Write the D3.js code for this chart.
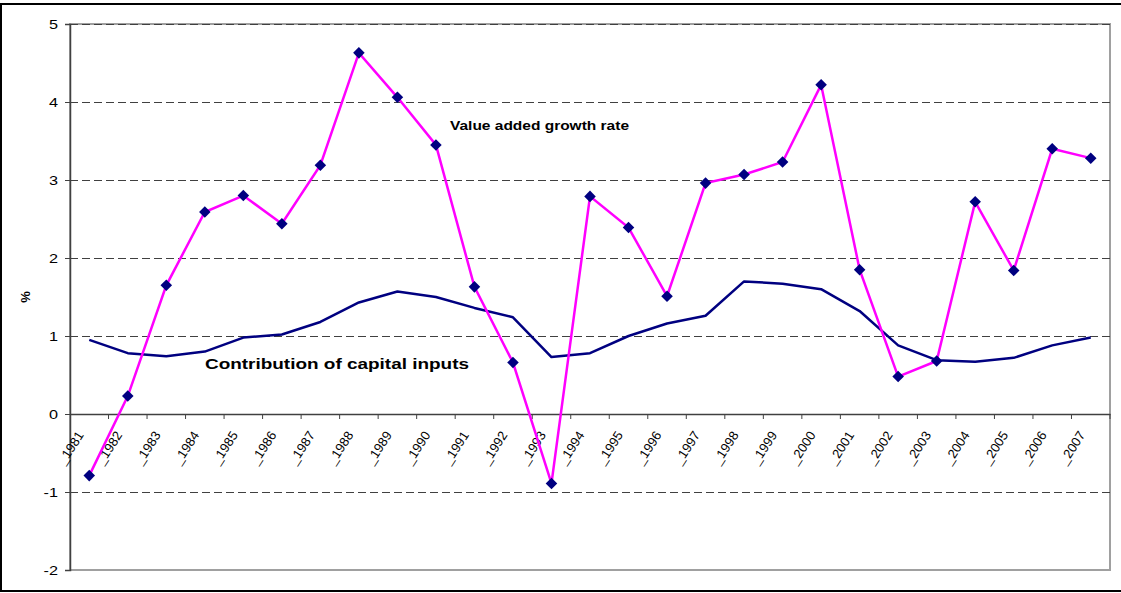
<!DOCTYPE html>
<html>
<head>
<meta charset="utf-8">
<script src="https://cdn.jsdelivr.net/npm/d3@7"></script>
<style>
body { margin:0; background:#fff; }
svg { display:block; font-family:"Liberation Sans", Arial, sans-serif; }
</style>
</head>
<body>
<div class="graph"></div>
<script>
const years = ["1981","1982","1983","1984","1985","1986","1987","1988","1989","1990",
  "1991","1992","1993","1994","1995","1996","1997","1998","1999","2000",
  "2001","2002","2003","2004","2005","2006","2007"];

// value added growth rate (%)
const valueAdded = [-0.79,0.23,1.65,2.59,2.80,2.44,3.19,4.63,4.06,3.45,
  1.63,0.66,-0.89,2.79,2.39,1.51,2.96,3.07,3.23,4.22,
  1.85,0.48,0.68,2.72,1.84,3.40,3.28];

// contribution of capital inputs (%)
const capital = [0.95,0.78,0.74,0.80,0.98,1.02,1.18,1.43,1.57,1.50,
  1.36,1.24,0.73,0.78,1.00,1.16,1.26,1.70,1.67,1.60,
  1.32,0.88,0.69,0.67,0.72,0.88,0.98];

const yTicks = [-2,-1,0,1,2,3,4,5];

const width = 1121;
const height = 593;

const plot = { left:70, right:1110, top:24, bottom:570 };

const svg = d3.select(".graph")
  .append("svg")
  .attr("width", width)
  .attr("height", height);

// outer chart frame
svg.append("rect")
  .attr("x", 1).attr("y", 4)
  .attr("width", 1130).attr("height", 587)
  .attr("fill", "none")
  .attr("stroke", "#000")
  .attr("stroke-width", 2);

const scaleX = d3.scaleBand()
  .domain(years)
  .range([plot.left, plot.right])
  .padding(0);

const scaleY = d3.scaleLinear()
  .domain([-2, 5])
  .range([plot.bottom, plot.top]);

const cx = d => scaleX(d) + scaleX.bandwidth() / 2;

// plot area border
svg.append("rect")
  .attr("x", plot.left).attr("y", plot.top)
  .attr("width", plot.right - plot.left)
  .attr("height", plot.bottom - plot.top)
  .attr("fill", "none")
  .attr("stroke", "#a0a0a0")
  .attr("stroke-width", 2);

// gridlines
svg.append("g")
  .selectAll("line")
  .data(yTicks.filter(t => t !== 0 && t !== -2))
  .enter()
  .append("line")
  .attr("x1", plot.left).attr("x2", plot.right)
  .attr("y1", d => scaleY(d) + 0.5).attr("y2", d => scaleY(d) + 0.5)
  .attr("stroke", "#404040")
  .attr("stroke-width", 1)
  .attr("stroke-dasharray", "8,4");

// y axis
const sx = 1.3;
const yAxis = d3.axisLeft(scaleY)
  .tickValues(yTicks)
  .tickSize(5)
  .tickFormat(d => String(d));
const gy = svg.append("g")
  .attr("transform", "translate(" + plot.left + ",0)")
  .call(yAxis);
gy.select(".domain").attr("stroke", "#404040").attr("stroke-width", 1.5);
gy.selectAll(".tick line").attr("stroke", "#404040");
gy.selectAll("text")
  .attr("fill", "#000")
  .attr("x", -12 / sx)
  .attr("transform", "scale(" + sx + ",1)")
  .style("font-size", "12.5px")
  .style("font-family", "Liberation Sans, Arial, sans-serif");

// x axis at zero, ticks between categories
const xAxis = d3.axisBottom(scaleX).tickSize(0).tickFormat("");
const gx = svg.append("g")
  .attr("transform", "translate(0," + scaleY(0) + ")")
  .call(xAxis);
gx.select(".domain").attr("stroke", "#404040").attr("stroke-width", 1.5);

const bounds = years.map(d => scaleX(d)).concat([plot.right]);
gx.selectAll("line.bound")
  .data(bounds.slice(1))
  .enter()
  .append("line")
  .attr("class", "bound")
  .attr("x1", d => d).attr("x2", d => d)
  .attr("y1", 0).attr("y2", 5)
  .attr("stroke", "#404040")
  .attr("stroke-width", 1);

svg.append("g")
  .selectAll("text")
  .data(years)
  .enter()
  .append("text")
  .attr("text-anchor", "end")
  .attr("transform", d => "translate(" + (cx(d) - 5) + "," + (scaleY(0) + 21) + ") rotate(-57)")
  .style("font-size", "13px")
  .attr("fill", "#000")
  .text(d => "_" + d);

// capital inputs line
const line = d3.line()
  .x((d, i) => cx(years[i]))
  .y(d => scaleY(d));

svg.append("path")
  .datum(capital)
  .attr("d", line)
  .attr("fill", "none")
  .attr("stroke", "#000080")
  .attr("stroke-width", 2.5)
  .attr("stroke-linejoin", "round");

// value added line
svg.append("path")
  .datum(valueAdded)
  .attr("d", line)
  .attr("fill", "none")
  .attr("stroke", "#ff00ff")
  .attr("stroke-width", 2.5);

svg.append("g")
  .selectAll("path")
  .data(valueAdded)
  .enter()
  .append("path")
  .attr("d", d3.symbol().type(d3.symbolDiamond2).size(85))
  .attr("transform", (d, i) => "translate(" + cx(years[i]) + "," + scaleY(d) + ")")
  .attr("fill", "#000080");

// labels
svg.append("text")
  .attr("x", 450).attr("y", 130)
  .attr("textLength", 179)
  .attr("lengthAdjust", "spacingAndGlyphs")
  .style("font-size", "12.5px")
  .style("font-weight", "bold")
  .text("Value added growth rate");

svg.append("text")
  .attr("x", 205).attr("y", 369)
  .attr("textLength", 264)
  .attr("lengthAdjust", "spacingAndGlyphs")
  .style("font-size", "15.5px")
  .style("font-weight", "bold")
  .text("Contribution of capital inputs");

svg.append("text")
  .attr("transform", "translate(30,297) rotate(-90)")
  .attr("text-anchor", "middle")
  .style("font-size", "13px")
  .style("font-weight", "bold")
  .text("%");
</script>
</body>
</html>
